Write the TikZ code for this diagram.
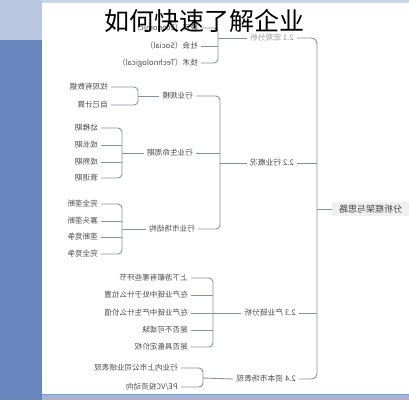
\documentclass[tikz,border=0pt]{standalone}
\usepackage{fontspec}
\usepackage{graphicx}
\setmainfont{Noto Sans CJK SC}
\usetikzlibrary{calc}

\definecolor{sidetop}{HTML}{B9C7E0}
\definecolor{sidebot}{HTML}{6885BE}
\definecolor{bandtop}{HTML}{CBD5E8}
\definecolor{bandbot}{HTML}{A7B4CD}
\definecolor{linegray}{HTML}{8A909A}
\definecolor{rootfill}{HTML}{EFEFEF}

% mirrored text, as in the picture
\newcommand\mt[1]{\reflectbox{#1}}

\tikzset{
  leaf/.style={anchor=east, inner xsep=3pt, inner ysep=1pt, text=black!70,
    font=\fontsize{7.6}{8}\selectfont},
  branch/.style={anchor=east, inner xsep=3pt, inner ysep=1pt, text=black!70,
    font=\fontsize{7.8}{8}\selectfont},
  link/.style={draw=linegray, line width=0.9pt, rounded corners=4pt},
}

\begin{document}
\begin{tikzpicture}[x=1pt, y=-1pt]
  \useasboundingbox (0,0) rectangle (409,400);
  % background
  \fill[white] (0,0) rectangle (409,400);
  \fill[bandtop] (0,0) rectangle (409,3);
  \fill[sidetop] (0,0) rectangle (42,40);
  \fill[sidebot] (0,40) rectangle (42,400);
  \fill[bandbot] (42,394) rectangle (409,400);
  \draw[sidebot!80, line width=0.8pt] (42,394.4) -- (409,394.4);

  % root and second level
  \node[anchor=west, fill=rootfill, inner xsep=7pt, inner ysep=3pt, text=black!75,
    font=\fontsize{9}{9}\selectfont] (root) at (332,209) {\mt{分析框架与思路}};
  \node[branch, text=black!40] (l21) at (297,38) {\mt{2.1 宏观分析}};
  \node[branch] (l22) at (297,163) {\mt{2.2 行业概况}};
  \node[branch] (l23) at (299,313) {\mt{2.3 产业链分析}};
  \node[branch] (l24) at (299,379) {\mt{2.4 资本市场表现}};

  \coordinate (bus) at (317,209);
  \draw[link, rounded corners=6pt] (l21.east) -| (bus) |- (l24.east);
  \draw[link] (root.west) -- (bus);
  \draw[link] (l22.east) -- (l22.east -| bus);
  \draw[link] (l23.east) -- (l23.east -| bus);

  % 2.1
  \node[leaf] (e1) at (201,28) {\mt{经济（Economic）}};
  \node[leaf] (e2) at (201,46) {\mt{社会（Social）}};
  \node[leaf] (e3) at (201,63) {\mt{技术（Technological）}};
  \coordinate (b21) at (218,38);
  \draw[link] (e1.east) -| (b21) |- (e3.east);
  \draw[link] (e2.east) -- (e2.east -| b21);
  \draw[link] (b21) -- (l21.west);

  % 2.2
  \node[leaf] (g1) at (196,96) {\mt{行业规模}};
  \node[leaf] (g2) at (196,153) {\mt{行业生命周期}};
  \node[leaf] (g3) at (198,229) {\mt{行业市场结构}};
  \coordinate (b22) at (220,163);
  \draw[link] (g1.east) -| (b22) |- (g3.east);
  \draw[link] (g2.east) -- (g2.east -| b22);
  \draw[link] (b22) -- (l22.west);

  \node[leaf] (s1) at (111,87) {\mt{找现有数据}};
  \node[leaf] (s2) at (111,105) {\mt{自己计算}};
  \coordinate (bs) at (138,96);
  \draw[link] (s1.east) -| (bs) |- (s2.east);
  \draw[link] (bs) -- (g1.west);

  \node[leaf] (c1) at (101,128) {\mt{幼稚期}};
  \node[leaf] (c2) at (101,145) {\mt{成长期}};
  \node[leaf] (c3) at (101,162) {\mt{成熟期}};
  \node[leaf] (c4) at (101,178) {\mt{衰退期}};
  \coordinate (bc) at (122,153);
  \draw[link] (c1.east) -| (bc) |- (c4.east);
  \draw[link] (c2.east) -- (c2.east -| bc);
  \draw[link] (c3.east) -- (c3.east -| bc);
  \draw[link] (bc) -- (g2.west);

  \node[leaf] (m1) at (101,204) {\mt{完全垄断}};
  \node[leaf] (m2) at (101,221) {\mt{寡头垄断}};
  \node[leaf] (m3) at (101,237) {\mt{垄断竞争}};
  \node[leaf] (m4) at (101,254) {\mt{完全竞争}};
  \coordinate (bm) at (122,229);
  \draw[link] (m1.east) -| (bm) |- (m4.east);
  \draw[link] (m2.east) -- (m2.east -| bm);
  \draw[link] (m3.east) -- (m3.east -| bm);
  \draw[link] (bm) -- (g3.west);

  % 2.3
  \node[leaf] (p1) at (191,278) {\mt{上下游都有哪些环节}};
  \node[leaf] (p2) at (191,295) {\mt{在产业链中处于什么位置}};
  \node[leaf] (p3) at (191,313) {\mt{在产业链中产生什么价值}};
  \node[leaf] (p4) at (191,330) {\mt{是否不可或缺}};
  \node[leaf] (p5) at (191,347) {\mt{是否具备定价权}};
  \coordinate (b23) at (213,313);
  \draw[link] (p1.east) -| (b23) |- (p5.east);
  \draw[link] (p2.east) -- (p2.east -| b23);
  \draw[link] (p3.east) -- (p3.east -| b23);
  \draw[link] (p4.east) -- (p4.east -| b23);
  \draw[link] (b23) -- (l23.west);

  % 2.4
  \node[leaf] (k1) at (181,368) {\mt{行业内上市公司业绩表现}};
  \node[leaf] (k2) at (181,387) {\mt{PE/VC投资动向}};
  \coordinate (b24) at (203,378);
  \draw[link] (k1.east) -| (b24) |- (k2.east);
  \draw[link] (b24) -- (l24.west);

  % title over the map
  \node[text=black, font=\fontsize{25}{26}\selectfont] (title) at (204,21) {如何快速了解企业};
\end{tikzpicture}
\end{document}
